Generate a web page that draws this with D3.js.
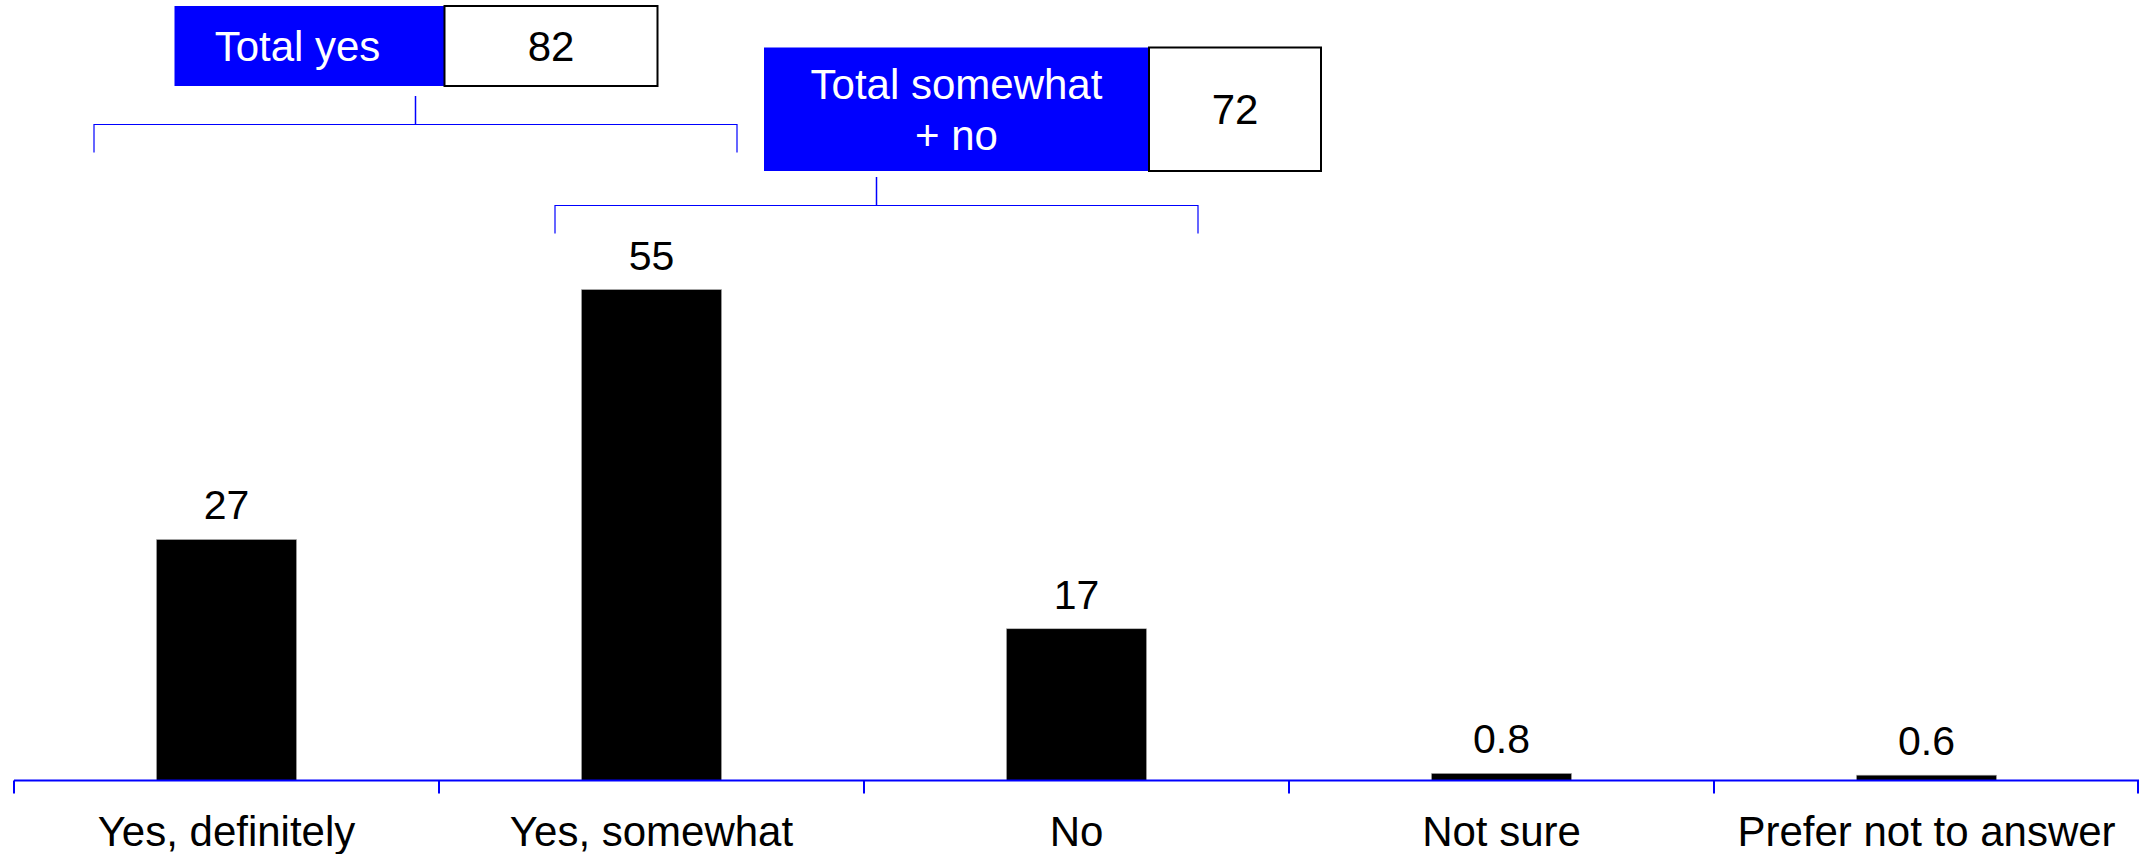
<!DOCTYPE html>
<html>
<head>
<meta charset="utf-8">
<script src="https://cdn.jsdelivr.net/npm/d3@7"></script>
<style>
  body { margin: 0; background: #fff; }
  svg { display: block; font-family: Arial, "Liberation Sans", sans-serif; }
</style>
</head>
<body>
<svg id="chart" width="2141" height="854"></svg>
<script>
// data
let categories = ["Yes, definitely", "Yes, somewhat", "No", "Not sure", "Prefer not to answer"];
let values = [27, 55, 17, 0.8, 0.6];
let valueLabels = ["27", "55", "17", "0.8", "0.6"];

let totalLabels = [["Total yes"], ["Total somewhat", "+ no"]];
let totalValues = [82, 72];
let totalSpans = [[0, 1], [1, 2]];

let svg = d3.select('#chart');
let blue = "#0000ff";

let x = d3.scaleBand().domain(categories).range([14, 2139]).paddingInner(0).paddingOuter(0);
let y = d3.scaleLinear().domain([0, 55]).range([780.5, 289.5]);
let barW = x.bandwidth() * 0.33;

// bars
svg.selectAll("rect.bar")
    .data(values)
    .enter()
    .append("rect")
    .attr("class", "bar")
    .attr("x", (d, i) => x(categories[i]) + x.bandwidth() / 2 - barW / 2)
    .attr("y", d => y(d))
    .attr("width", barW)
    .attr("height", d => y(0) - y(d))
    .attr("fill", "#000")
    .attr("stroke", "#bbb")
    .attr("stroke-width", 0.6);

// value labels
svg.selectAll("text.val")
    .data(values)
    .enter()
    .append("text")
    .attr("class", "val")
    .attr("x", (d, i) => x(categories[i]) + x.bandwidth() / 2)
    .attr("y", d => y(d) - 20)
    .attr("text-anchor", "middle")
    .attr("font-size", "41px")
    .attr("fill", "#000")
    .text((d, i) => valueLabels[i]);

// axis: line plus ticks at band edges
let axisG = svg.append("g");
axisG.append("line")
    .attr("x1", x.range()[0]).attr("x2", x.range()[1])
    .attr("y1", y(0)).attr("y2", y(0))
    .attr("stroke", blue).attr("stroke-width", 2);

let edges = categories.map(c => x(c)).concat([x.range()[1] - 1]);
axisG.selectAll("line.tick")
    .data(edges)
    .enter()
    .append("line")
    .attr("class", "tick")
    .attr("x1", d => d).attr("x2", d => d)
    .attr("y1", y(0)).attr("y2", y(0) + 13)
    .attr("stroke", blue).attr("stroke-width", 2);

axisG.selectAll("text.cat")
    .data(categories)
    .enter()
    .append("text")
    .attr("class", "cat")
    .attr("x", d => x(d) + x.bandwidth() / 2)
    .attr("y", 846)
    .attr("text-anchor", "middle")
    .attr("font-size", "42px")
    .attr("fill", "#000")
    .text(d => d);

// total brackets + boxes
let bracketLayout = [
    {stemOff: -23.5, half: 321.5, lineY: 124.5, legY: 152.5, stemTop: 96,
     boxTop: 6, boxH: 80, blueLeft: -241, blueW: 270, whiteW: 213, textShift: -12},
    {stemOff: 12.5, half: 321.5, lineY: 205.5, legY: 233.5, stemTop: 177,
     boxTop: 47.5, boxH: 123.5, blueLeft: -112.5, blueW: 385, whiteW: 172, textShift: 0}
];

totalSpans.forEach(function(span, i) {
    let L = bracketLayout[i];
    let stemX = x(categories[span[1]]) + L.stemOff;
    let g = svg.append("g");

    g.append("path")
        .attr("d", "M" + (stemX - L.half) + "," + L.legY +
                   "V" + L.lineY + "H" + (stemX + L.half) + "V" + L.legY)
        .attr("fill", "none")
        .attr("stroke", blue)
        .attr("stroke-width", 1.2);

    g.append("line")
        .attr("x1", stemX).attr("x2", stemX)
        .attr("y1", L.stemTop).attr("y2", L.lineY)
        .attr("stroke", blue).attr("stroke-width", 1.5);

    let bx = stemX + L.blueLeft;
    g.append("rect")
        .attr("x", bx).attr("y", L.boxTop)
        .attr("width", L.blueW).attr("height", L.boxH)
        .attr("fill", blue);

    g.append("rect")
        .attr("x", bx + L.blueW).attr("y", L.boxTop)
        .attr("width", L.whiteW).attr("height", L.boxH)
        .attr("fill", "#fff")
        .attr("stroke", "#000")
        .attr("stroke-width", 2);

    let cy = L.boxTop + L.boxH / 2;
    let lines = totalLabels[i];
    let lh = 50.5;
    lines.forEach(function(t, j) {
        g.append("text")
            .attr("x", bx + L.blueW / 2 + L.textShift)
            .attr("y", cy + 15 + (j - (lines.length - 1) / 2) * lh)
            .attr("text-anchor", "middle")
            .attr("font-size", "42px")
            .attr("fill", "#fff")
            .text(t);
    });

    g.append("text")
        .attr("x", bx + L.blueW + L.whiteW / 2)
        .attr("y", cy + 15)
        .attr("text-anchor", "middle")
        .attr("font-size", "42px")
        .attr("fill", "#000")
        .text(totalValues[i]);
});
</script>
</body>
</html>
